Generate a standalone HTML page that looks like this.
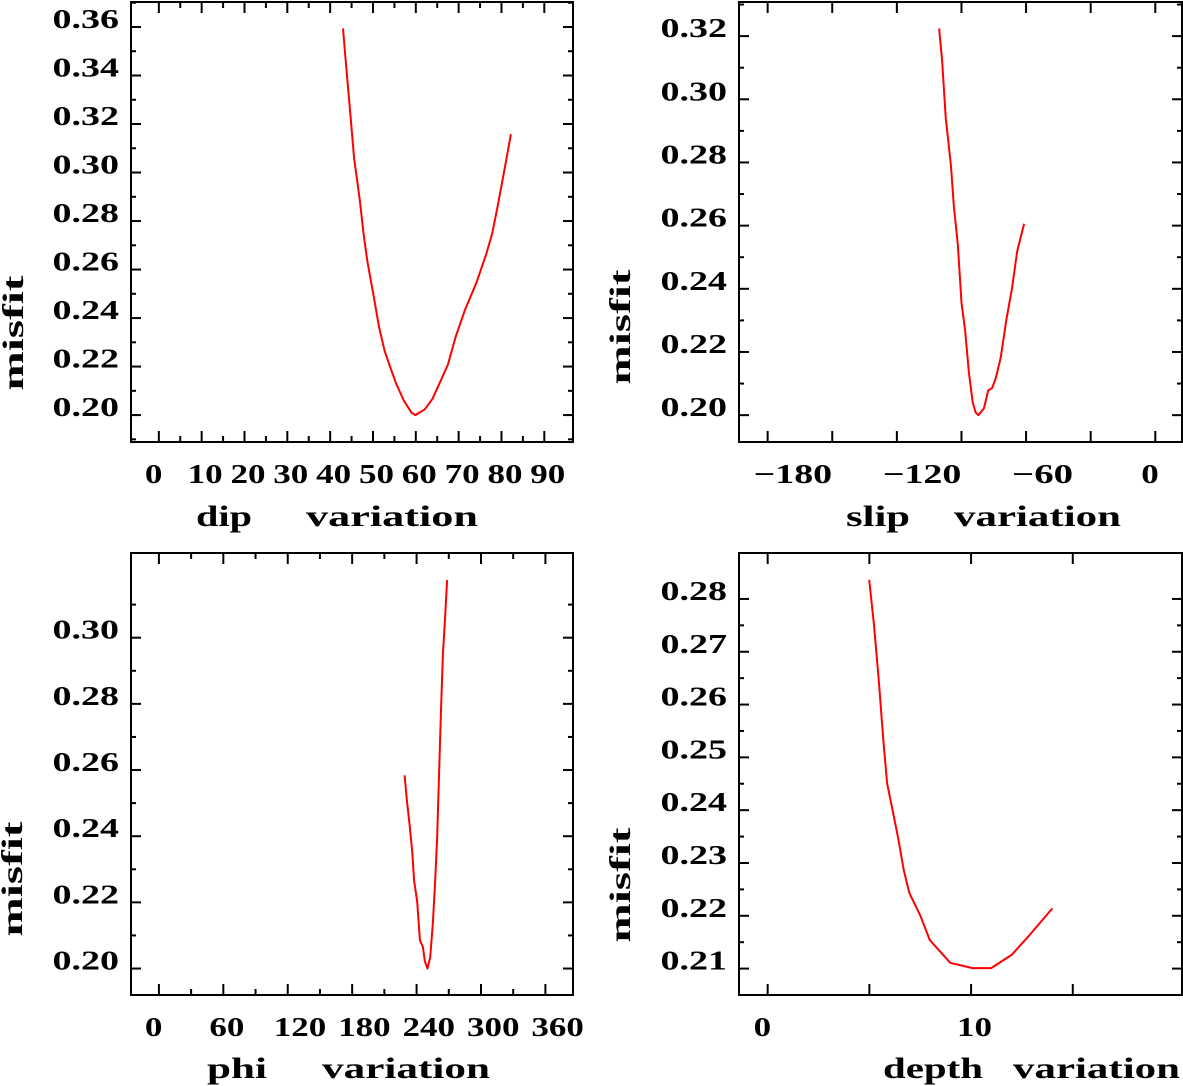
<!DOCTYPE html>
<html><head><meta charset="utf-8"><style>
html,body{margin:0;padding:0;background:#fff;}
svg{display:block;}
text{font-family:"Liberation Serif",serif;font-weight:bold;fill:#000;}
</style></head>
<body>
<svg id="fig" width="1183" height="1086" viewBox="0 0 1183 1086" xmlns="http://www.w3.org/2000/svg"></svg>
<script>
// ---- data: dip panel ----
const dipX = [43.0,43.8,44.7,45.6,46.9,47.8,48.7,50.0,51.4,52.7,54.1,55.4,57.2,59.0,59.9,62.1,63.9,65.7,67.5,69.3,71.5,74.2,76.4,77.8,79.1,80.9,82.2];
const dipY = [0.3594,0.3427,0.3243,0.3059,0.2889,0.2747,0.2633,0.2506,0.2364,0.2265,0.2194,0.2130,0.2060,0.2010,0.2000,0.2024,0.2067,0.2137,0.2208,0.2322,0.2435,0.2548,0.2662,0.2747,0.2860,0.3030,0.3158];
const dipXTicks = [0,10,20,30,40,50,60,70,80,90];
const dipYTicks = [0.20,0.22,0.24,0.26,0.28,0.30,0.32,0.34,0.36];
// ---- data: slip panel ----
const slipX = [-100.4,-99.0,-97.3,-96.1,-94.9,-93.5,-91.7,-90.0,-88.3,-86.6,-84.8,-83.4,-82.2,-79.6,-77.6,-75.8,-74.1,-71.8,-69.2,-66.6,-64.1,-60.9];
const slipY = [0.3224,0.3123,0.2943,0.2867,0.2791,0.2660,0.2541,0.2356,0.2269,0.2138,0.2040,0.2008,0.2000,0.2021,0.2078,0.2086,0.2116,0.2182,0.2301,0.2399,0.2519,0.2606];
const slipXTicks = [-180,-120,-60,0];
const slipYTicks = [0.20,0.22,0.24,0.26,0.28,0.30,0.32];
// ---- data: phi panel ----
const phiX = [228.8,231.0,233.5,236.0,237.7,240.6,243.1,245.9,247.7,250.2,252.7,255.2,257.3,259.1,260.9,262.7,264.5,266.3,268.4];
const phiY = [0.2584,0.2508,0.2434,0.2350,0.2266,0.2202,0.2086,0.2065,0.2023,0.2000,0.2034,0.2139,0.2266,0.2392,0.2582,0.2771,0.2950,0.3045,0.3174];
const phiXTicks = [0,60,120,180,240,300,360];
const phiYTicks = [0.20,0.22,0.24,0.26,0.28,0.30];
// ---- data: depth panel ----
const depthX = [4.99,5.23,5.47,5.69,5.87,6.01,6.42,6.69,6.97,7.51,7.97,8.98,10.07,10.99,11.99,12.82,14.00];
const depthY = [0.2836,0.2749,0.2643,0.2531,0.2451,0.2425,0.2346,0.2286,0.2243,0.2200,0.2154,0.2111,0.2101,0.2101,0.2126,0.2161,0.2214];
const depthXTicks = [0,10];
const depthYTicks = [0.21,0.22,0.23,0.24,0.25,0.26,0.27,0.28];

const NS = "http://www.w3.org/2000/svg";
const svg = document.getElementById('fig');
function mk(tag, attrs, parent){
  const e = document.createElementNS(NS, tag);
  for (const k in attrs) e.setAttribute(k, attrs[k]);
  (parent||svg).appendChild(e);
  return e;
}
function numW(s){
  let w=0;
  for (const c of s){ if(c==='.') w+=14; else if(c==='\u2212') w+=26; else w+=17.5; }
  return w;
}
function fmtX(v){ return v<0 ? '\u2212'+Math.abs(v) : String(v); }

function panel(p){
  const g = mk('g', {});
  
  
  const xs = v => p.L + (v - p.xd[0]) / (p.xd[1]-p.xd[0]) * (p.R - p.L);
  const ys = v => p.B - (v - p.yd[0]) / (p.yd[1]-p.yd[0]) * (p.B - p.T);
  const frame = mk('rect', {x:p.L, y:p.T, width:p.R-p.L, height:p.B-p.T, fill:'none', stroke:'#000', 'stroke-width':2}, g);
  
  
  // y ticks
  for (let k = Math.round(p.yMin/p.yStep); k*p.yStep <= p.yMax + 1e-9; k++){
    const v = k*p.yStep;
    const major = Math.abs(Math.round(v/p.yMajor)*p.yMajor - v) < 1e-9;
    const len = major ? 10 : 5;
    const y = ys(v);
    mk('line', {x1:p.L, x2:p.L+len, y1:y, y2:y, stroke:'#000', 'stroke-width':2}, g);
    mk('line', {x1:p.R, x2:p.R-len, y1:y, y2:y, stroke:'#000', 'stroke-width':2}, g);
  }
  // x ticks
  for (let k = Math.round(p.xMin/p.xStep); k*p.xStep <= p.xMax + 1e-9; k++){
    const v = k*p.xStep;
    const major = Math.abs(Math.round(v/p.xMajor)*p.xMajor - v) < 1e-9;
    const len = major ? 11 : 6;
    const x = xs(v);
    mk('line', {x1:x, x2:x, y1:p.B, y2:p.B-len, stroke:'#000', 'stroke-width':2}, g);
    mk('line', {x1:x, x2:x, y1:p.T, y2:p.T+len, stroke:'#000', 'stroke-width':2}, g);
  }
  // y tick labels
  p.yTicks.forEach(v => {
    const s = v.toFixed(2);
    const t = mk('text', {x:p.L-12, y:ys(v)+1, 'text-anchor':'end', 'font-size':27, textLength:numW(s), lengthAdjust:'spacingAndGlyphs'}, g);
    t.textContent = s;
    
    
  });
  // x tick labels
  p.xTicks.forEach(v => {
    const s = fmtX(v);
    const t = mk('text', {x:xs(v)-14, y:p.B+41, 'font-size':27, textLength:numW(s), lengthAdjust:'spacingAndGlyphs'}, g);
    t.textContent = s;
    
    
  });
  // curve
  const d = p.xs.map((v,i) => (i?'L':'M') + xs(v).toFixed(1) + ' ' + ys(p.ys[i]).toFixed(1)).join(' ');
  const path = mk('path', {d:d, fill:'none', stroke:'#ff0000', 'stroke-width':2, 'stroke-linejoin':'round'}, g);
  
  
  // titles
  const yt = mk('text', {x:0, y:0, 'font-size':30, 'text-anchor':'middle', textLength:115, lengthAdjust:'spacingAndGlyphs', transform:'translate(' + (p.yTitleX) + ',' + p.yTitleY + ') rotate(-90)'}, g);
  yt.textContent = 'misfit';
  
  
  const xt1 = mk('text', {x:p.t1[0], y:p.tb, 'font-size':30, textLength:p.t1[1], lengthAdjust:'spacingAndGlyphs'}, g);
  xt1.textContent = p.name;
  
  
  const xt2 = mk('text', {x:p.t2[0], y:p.tb, 'font-size':30, textLength:p.t2[1], lengthAdjust:'spacingAndGlyphs'}, g);
  xt2.textContent = 'variation';
  
  
}

panel({name:'dip', L:131, R:573, T:2, B:442, xd:[-6.5,96.7], yd:[0.1889,0.3703],
  xs:dipX, ys:dipY, xTicks:dipXTicks, yTicks:dipYTicks,
  xMin:0, xMax:90, xStep:5, xMajor:10, yMin:0.19, yMax:0.37, yStep:0.01, yMajor:0.02,
  yTitleX:23, yTitleY:333, t1:[196,56], t2:[306,172], tb:526});
panel({name:'slip', L:739, R:1182, T:2, B:442, xd:[-193.3,12.4], yd:[0.1915,0.3308],
  xs:slipX, ys:slipY, xTicks:slipXTicks, yTicks:slipYTicks,
  xMin:-180, xMax:0, xStep:30, xMajor:30, yMin:0.20, yMax:0.33, yStep:0.01, yMajor:0.02,
  yTitleX:630, yTitleY:327, t1:[846,64], t2:[954,167], tb:526});
panel({name:'phi', L:131, R:573, T:553, B:995, xd:[-26,385.7], yd:[0.192,0.3256],
  xs:phiX, ys:phiY, xTicks:phiXTicks, yTicks:phiYTicks,
  xMin:0, xMax:360, xStep:30, xMajor:60, yMin:0.20, yMax:0.31, yStep:0.01, yMajor:0.02,
  yTitleX:22, yTitleY:879, t1:[207,60], t2:[322,168], tb:1078});
panel({name:'depth', L:739, R:1182, T:553, B:995, xd:[-1.41,20.37], yd:[0.205,0.2887],
  xs:depthX, ys:depthY, xTicks:depthXTicks, yTicks:depthYTicks,
  xMin:0, xMax:15, xStep:5, xMajor:5, yMin:0.21, yMax:0.28, yStep:0.005, yMajor:0.01,
  yTitleX:630, yTitleY:885, t1:[883,100], t2:[1013,167], tb:1078});
</script>
</body></html>
